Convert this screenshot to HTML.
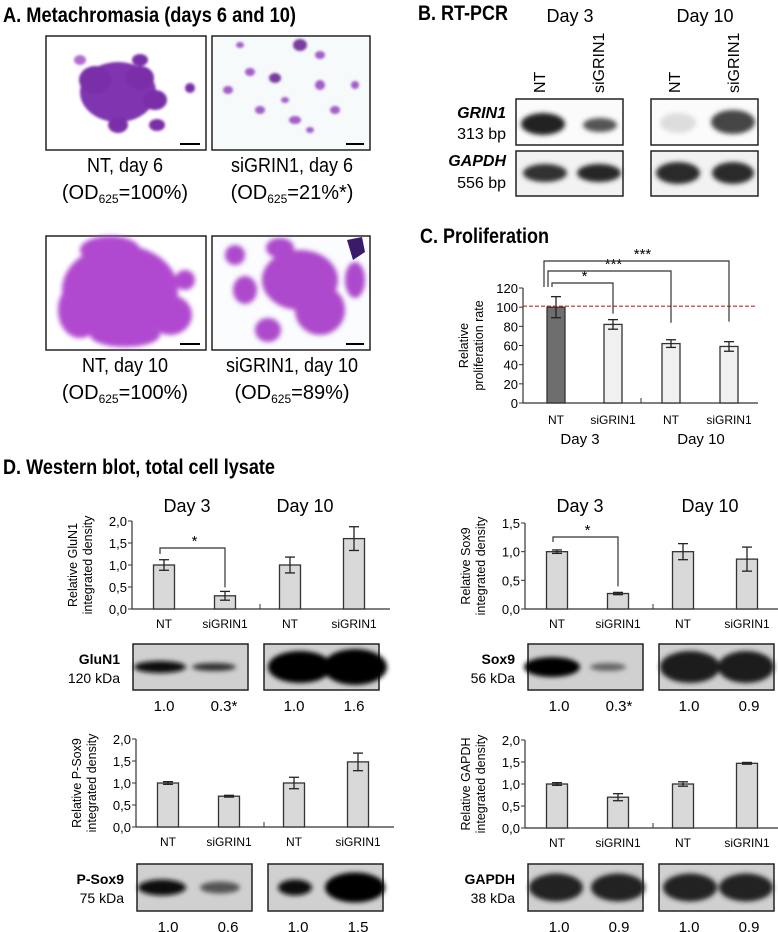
<!DOCTYPE html>
<html><head><meta charset="utf-8"><style>
body{margin:0;background:#fff;}
svg{display:block;font-family:"Liberation Sans Narrow","Liberation Sans",sans-serif;}
.b{font-family:"Liberation Sans",sans-serif;font-weight:bold;}
</style></head><body>
<svg id="fig" width="778" height="932" viewBox="0 0 778 932" xmlns="http://www.w3.org/2000/svg">
<defs>
<filter id="blur2" x="-50%" y="-50%" width="200%" height="200%"><feGaussianBlur stdDeviation="2.5"/></filter>
<filter id="blur1" x="-50%" y="-50%" width="200%" height="200%"><feGaussianBlur stdDeviation="1.2"/></filter>
</defs>

<!-- Panel titles -->
<text class="b" x="3" y="22" font-size="21" textLength="293" lengthAdjust="spacingAndGlyphs">A.  Metachromasia (days 6 and 10)</text>
<text class="b" x="418" y="20" font-size="21" textLength="90" lengthAdjust="spacingAndGlyphs">B. RT-PCR</text>
<text class="b" x="420" y="243" font-size="21" textLength="129" lengthAdjust="spacingAndGlyphs">C. Proliferation</text>
<text class="b" x="3" y="474" font-size="21" textLength="272" lengthAdjust="spacingAndGlyphs">D. Western blot, total cell lysate</text>

<!-- Panel A images -->
<g>
<rect x="46" y="36" width="160" height="114" fill="#fff" stroke="#222" stroke-width="1.5"/>
<g filter="url(#blur1)" fill="#7a2fa8">
<ellipse cx="118" cy="92" rx="38" ry="30" fill="#7f35b0"/><ellipse cx="95" cy="80" rx="16" ry="14"/><ellipse cx="140" cy="78" rx="14" ry="12"/><ellipse cx="155" cy="100" rx="12" ry="10"/><ellipse cx="118" cy="125" rx="10" ry="8"/><ellipse cx="157" cy="125" rx="8" ry="6"/><ellipse cx="80" cy="60" rx="6" ry="5" fill="#b06ad0"/><ellipse cx="140" cy="60" rx="8" ry="6"/><ellipse cx="190" cy="88" rx="5" ry="5"/>
</g>
<rect x="180" y="143" width="20" height="2" fill="#000"/>
</g>
<g>
<rect x="212" y="36" width="158" height="114" fill="#f6fafa" stroke="#222" stroke-width="1.5"/>
<g filter="url(#blur1)" fill="#a35cc8">
<ellipse cx="228" cy="90" rx="5" ry="4"/><ellipse cx="250" cy="72" rx="5" ry="4"/><ellipse cx="275" cy="78" rx="6" ry="5" fill="#7a3aa0"/><ellipse cx="300" cy="45" rx="7" ry="6" fill="#7a3aa0"/><ellipse cx="320" cy="85" rx="5" ry="5"/><ellipse cx="260" cy="110" rx="5" ry="4"/><ellipse cx="295" cy="120" rx="6" ry="4"/><ellipse cx="335" cy="110" rx="5" ry="4"/><ellipse cx="355" cy="85" rx="4" ry="4"/><ellipse cx="285" cy="100" rx="4" ry="3"/><ellipse cx="240" cy="45" rx="4" ry="3"/><ellipse cx="320" cy="55" rx="5" ry="4"/><ellipse cx="310" cy="130" rx="4" ry="3"/>
</g>
<rect x="346" y="143" width="18" height="2" fill="#000"/>
</g>
<g>
<rect x="46" y="236" width="160" height="114" fill="#fff" stroke="#222" stroke-width="1.5"/>
<g filter="url(#blur2)" fill="#b048d0">
<ellipse cx="120" cy="290" rx="58" ry="45"/><ellipse cx="80" cy="310" rx="22" ry="28"/><ellipse cx="170" cy="315" rx="22" ry="20"/><ellipse cx="110" cy="250" rx="30" ry="14"/><ellipse cx="185" cy="280" rx="10" ry="10"/><ellipse cx="125" cy="335" rx="35" ry="12"/>
</g>
<rect x="180" y="343" width="20" height="2" fill="#000"/>
</g>
<g>
<rect x="212" y="236" width="158" height="114" fill="#fafcfd" stroke="#222" stroke-width="1.5"/>
<g filter="url(#blur2)" fill="#ad48cc">
<ellipse cx="300" cy="280" rx="38" ry="30"/><ellipse cx="320" cy="310" rx="25" ry="25"/><ellipse cx="245" cy="290" rx="12" ry="14"/><ellipse cx="235" cy="255" rx="10" ry="10"/><ellipse cx="268" cy="330" rx="13" ry="12"/><ellipse cx="355" cy="280" rx="10" ry="18"/><ellipse cx="280" cy="248" rx="14" ry="10"/>
</g>
<path d="M347 240 l15 -3 l3 15 l-12 8z" fill="#3b1a6a"/>
<rect x="346" y="343" width="18" height="2" fill="#000"/>
</g>
<g font-size="20" text-anchor="middle" font-family="Liberation Sans, sans-serif">
<text x="125" y="172" textLength="76" lengthAdjust="spacingAndGlyphs">NT, day 6</text>
<text x="125" y="199">(OD<tspan font-size="12" dy="4">625</tspan><tspan dy="-4">=100%)</tspan></text>
<text x="292" y="172" textLength="122" lengthAdjust="spacingAndGlyphs">siGRIN1, day 6</text>
<text x="292" y="199">(OD<tspan font-size="12" dy="4">625</tspan><tspan dy="-4">=21%*)</tspan></text>
<text x="125" y="372" textLength="86" lengthAdjust="spacingAndGlyphs">NT, day 10</text>
<text x="125" y="399">(OD<tspan font-size="12" dy="4">625</tspan><tspan dy="-4">=100%)</tspan></text>
<text x="292" y="372" textLength="132" lengthAdjust="spacingAndGlyphs">siGRIN1, day 10</text>
<text x="292" y="399">(OD<tspan font-size="12" dy="4">625</tspan><tspan dy="-4">=89%)</tspan></text>
</g>

<!-- Panel B -->
<g font-size="16">
<text x="570" y="22" text-anchor="middle" font-size="18">Day 3</text>
<text x="705" y="22" text-anchor="middle" font-size="18">Day 10</text>
<text transform="translate(545,93) rotate(-90)">NT</text>
<text transform="translate(604,93) rotate(-90)">siGRIN1</text>
<text transform="translate(680,93) rotate(-90)">NT</text>
<text transform="translate(739,93) rotate(-90)">siGRIN1</text>
<text x="506" y="118" text-anchor="end" font-weight="bold" font-style="italic">GRIN1</text>
<text x="506" y="139" text-anchor="end">313 bp</text>
<text x="506" y="166" text-anchor="end" font-weight="bold" font-style="italic">GAPDH</text>
<text x="506" y="188" text-anchor="end">556 bp</text>
<rect x="516" y="99" width="107" height="46" fill="#fbfbfb" stroke="#222" stroke-width="1.5"/>
<rect x="651" y="99" width="107" height="46" fill="#fbfbfb" stroke="#222" stroke-width="1.5"/>
<rect x="516" y="151" width="107" height="45" fill="#f2f2f2" stroke="#222" stroke-width="1.5"/>
<rect x="651" y="151" width="107" height="45" fill="#f2f2f2" stroke="#222" stroke-width="1.5"/>
<g filter="url(#blur2)">
<ellipse cx="543" cy="124" rx="22" ry="11" fill="#222"/>
<ellipse cx="600" cy="125" rx="17" ry="7" fill="#555"/>
<ellipse cx="678" cy="123" rx="18" ry="10" fill="#ddd"/>
<ellipse cx="733" cy="122" rx="22" ry="12" fill="#444"/>
<ellipse cx="545" cy="173" rx="22" ry="9" fill="#333"/>
<ellipse cx="599" cy="173" rx="22" ry="9" fill="#262626"/>
<ellipse cx="678" cy="173" rx="22" ry="11" fill="#2a2a2a"/>
<ellipse cx="733" cy="173" rx="21" ry="11" fill="#2a2a2a"/>
</g>
</g>

<!-- Panel D text/blots -->
<g font-size="18" text-anchor="middle">
<text x="187" y="512">Day 3</text><text x="305" y="512">Day 10</text>
<text x="580" y="512">Day 3</text><text x="710" y="512">Day 10</text>
</g>
<g id="blots" font-size="15"></g>
<g id="charts"></g>
</svg>

<script>
// ---- Chart data ----
const categories = ["NT", "siGRIN1", "NT", "siGRIN1"];
const prolifMeans = [100, 82, 62, 59];
const prolifErr = [11, 5, 4, 5];
const prolifTicks = [0, 20, 40, 60, 80, 100, 120];
const gluN1Means = [1.0, 0.3, 1.0, 1.6];
const gluN1Err = [0.12, 0.1, 0.18, 0.27];
const sox9Means = [1.0, 0.27, 1.0, 0.87];
const sox9Err = [0.03, 0.02, 0.14, 0.21];
const pSox9Means = [1.0, 0.7, 1.0, 1.48];
const pSox9Err = [0.03, 0.02, 0.13, 0.2];
const gapdhMeans = [1.0, 0.7, 1.0, 1.47];
const gapdhErr = [0.03, 0.08, 0.05, 0.02];
const densityTicks20 = ["0,0", "0,5", "1,0", "1,5", "2,0"];
const densityTicks15 = ["0,0", "0,5", "1,0", "1,5"];
const gluN1Quant = ["1.0", "0.3*", "1.0", "1.6"];
const sox9Quant = ["1.0", "0.3*", "1.0", "0.9"];
const pSox9Quant = ["1.0", "0.6", "1.0", "1.5"];
const gapdhQuant = ["1.0", "0.9", "1.0", "0.9"];

const NS = "http://www.w3.org/2000/svg";
function mk(parent, tag, attrs, text) {
  const e = document.createElementNS(NS, tag);
  for (const k in attrs) e.setAttribute(k, attrs[k]);
  if (text !== undefined) e.textContent = text;
  parent.appendChild(e);
  return e;
}
const charts = document.getElementById('charts');

function barChart(o) {
  const g = mk(charts, 'g', {});
  
  
  const y = v => o.zeroY - (v / o.maxV) * (o.zeroY - o.topY);
  const x = i => o.axisX + o.offsets[i];
  o.tickVals.forEach((tv, i) => {
    const yy = y(tv);
    mk(g, 'line', {x1: o.axisX - 4, x2: o.axisX, y1: yy, y2: yy, stroke: '#333', 'stroke-width': 1});
    const t = mk(g, 'text', {x: o.axisX - 5, y: yy + 5, 'text-anchor': 'end', 'font-size': o.fs || 13}, o.tickLabels[i]);
    
    
  });
  mk(g, 'line', {x1: o.axisX, x2: o.axisX, y1: o.topY, y2: o.zeroY, stroke: '#333', 'stroke-width': 1.2});
  mk(g, 'line', {x1: o.axisX, x2: o.axisX + o.axisLen, y1: o.zeroY, y2: o.zeroY, stroke: '#333', 'stroke-width': 1.2});
  mk(g, 'line', {x1: o.axisX + o.midTick, x2: o.axisX + o.midTick, y1: o.zeroY - 5, y2: o.zeroY, stroke: '#333', 'stroke-width': 1});
  o.means.forEach((m, i) => {
    const bw = o.bw;
    const r = mk(g, 'rect', {x: x(i) - bw / 2, y: y(m), width: bw, height: o.zeroY - y(m), fill: (o.fills ? o.fills[i] : '#d9d9d9'), stroke: '#333', 'stroke-width': 1.3});
    
    
    const e = o.err[i];
    const eg = mk(g, 'g', {stroke: '#222', 'stroke-width': 1.3});
    
    
    mk(eg, 'line', {x1: x(i), x2: x(i), y1: y(m + e), y2: y(m - e)});
    mk(eg, 'line', {x1: x(i) - 5, x2: x(i) + 5, y1: y(m + e), y2: y(m + e)});
    mk(eg, 'line', {x1: x(i) - 5, x2: x(i) + 5, y1: y(m - e), y2: y(m - e)});
    const cl = mk(g, 'text', {x: x(i), y: o.zeroY + o.catDy, 'text-anchor': 'middle', 'font-size': 12}, categories[i]);
    
    
  });
  const ty = (o.topY + o.zeroY) / 2;
  const tt = mk(g, 'text', {transform: `translate(${o.axisX - o.titleDx},${ty}) rotate(-90)`, 'text-anchor': 'middle', 'font-size': 12.5});
  
  
  mk(tt, 'tspan', {x: 0, dy: -7}, o.title1);
  mk(tt, 'tspan', {x: 0, dy: 15}, o.title2);
  return {g, x, y};
}

const off = [32, 93, 158, 222];
function densityChart(name, axisX, zeroY, topY, maxV, ticks, means, err, t1) {
  const vals = ticks.map(s => parseFloat(s.replace(',', '.')));
  return barChart({name, axisX, zeroY, topY, maxV, tickVals: vals, tickLabels: ticks,
    offsets: off, bw: 21, means, err, axisLen: 258, midTick: 128, catDy: 19, titleDx: 48,
    title1: t1, title2: 'integrated density'});
}

const c1 = densityChart('glun1-density-chart', 132, 609, 521, 2.0, densityTicks20, gluN1Means, gluN1Err, 'Relative GluN1');
const c2 = densityChart('sox9-density-chart', 525, 609, 523, 1.5, densityTicks15, sox9Means, sox9Err, 'Relative Sox9');
const c3 = densityChart('psox9-density-chart', 136, 827, 739, 2.0, densityTicks20, pSox9Means, pSox9Err, 'Relative P-Sox9');
const c4 = densityChart('gapdh-density-chart', 525, 828, 740, 2.0, densityTicks20, gapdhMeans, gapdhErr, 'Relative GAPDH');

function bracket(c, i, j, topY, yl, yr, label, sx) {
  const g = mk(charts, 'g', {fill: 'none', stroke: '#333', 'stroke-width': 1.2});
  
  
  mk(g, 'path', {d: `M${c.x(i) + sx} ${yl} V${topY} H${c.x(j)} V${yr}`});
  mk(charts, 'text', {x: (c.x(i) + c.x(j)) / 2, y: topY - 2, 'text-anchor': 'middle', 'font-size': 15}, label);
}
bracket(c1, 0, 1, 548, 554, c1.y(gluN1Means[1] + gluN1Err[1]) - 4, '*', -4);
bracket(c2, 0, 1, 537, 542, c2.y(sox9Means[1] + sox9Err[1]) - 6, '*', -4);

const cp = barChart({name: 'proliferation-chart', axisX: 523, zeroY: 403, topY: 288, maxV: 120,
  tickVals: prolifTicks, tickLabels: prolifTicks.map(String), offsets: [33, 90, 148, 206], bw: 18,
  means: prolifMeans, err: prolifErr, fills: ['#6e6e6e', '#f0f0f0', '#f0f0f0', '#f0f0f0'],
  axisLen: 235, midTick: 118, catDy: 21, titleDx: 48, fs: 13,
  title1: 'Relative', title2: 'proliferation rate'});
const ref = mk(charts, 'line', {x1: 523, x2: 756, y1: cp.y(101), y2: cp.y(101), stroke: '#d42020', 'stroke-width': 1.2, 'stroke-dasharray': '4,2'});


bracket(cp, 0, 1, 283, 287, cp.y(prolifMeans[1] + prolifErr[1]) - 6, '*', -4);
bracket(cp, 0, 2, 271, 287, cp.y(prolifMeans[2] + prolifErr[2]) - 17, '***', -8);
bracket(cp, 0, 3, 261, 287, cp.y(prolifMeans[3] + prolifErr[3]) - 20, '***', -12);
mk(charts, 'text', {x: 580, y: 444, 'text-anchor': 'middle', 'font-size': 15}, 'Day 3');
mk(charts, 'text', {x: 701, y: 444, 'text-anchor': 'middle', 'font-size': 15}, 'Day 10');

const blots = document.getElementById('blots');
function blot(name, lx, y, h, label, kda, bands, quant) {
  const g = mk(blots, 'g', {});
  
  
  mk(g, 'text', {x: lx + 56, y: y + 20, 'text-anchor': 'end', 'font-weight': 'bold', 'font-size': 14}, label);
  mk(g, 'text', {x: lx + 56, y: y + 39, 'text-anchor': 'end', 'font-size': 14}, kda);
  const bx = [lx + 69, lx + 200];
  bx.forEach(b => mk(g, 'rect', {x: b, y: y, width: 115, height: h, fill: '#d0d0d0', stroke: '#222', 'stroke-width': 1.5}));
  const bg = mk(g, 'g', {filter: 'url(#blur2)'});
  bands.forEach(bd => mk(bg, 'ellipse', {cx: bd[0], cy: y + h / 2 + (bd[4] || 0), rx: bd[1], ry: bd[2], fill: bd[3]}));
  const qx = [lx + 100, lx + 160, lx + 230, lx + 290];
  quant.forEach((q, i) => mk(g, 'text', {x: qx[i], y: y + h + 21, 'text-anchor': 'middle', 'font-size': 15}, q));
}
blot('glun1-blot', 64, 644, 46, 'GluN1', '120 kDa',
  [[160, 26, 6, '#111'], [214, 22, 4, '#333'], [300, 32, 16, '#000'], [355, 32, 18, '#000']], gluN1Quant);
blot('sox9-blot', 459, 644, 46, 'Sox9', '56 kDa',
  [[552, 28, 10, '#000'], [608, 18, 4, '#666'], [690, 30, 16, '#1a1a1a'], [746, 28, 16, '#1a1a1a']], sox9Quant);
blot('psox9-blot', 68, 864, 47, 'P-Sox9', '75 kDa',
  [[162, 24, 8, '#111'], [220, 20, 6, '#555'], [295, 17, 8, '#111'], [355, 30, 15, '#000']], pSox9Quant);
blot('gapdh-blot', 459, 864, 47, 'GAPDH', '38 kDa',
  [[556, 27, 14, '#222'], [618, 27, 14, '#222'], [690, 27, 14, '#222'], [746, 27, 14, '#222']], gapdhQuant);
</script>
</body></html>
